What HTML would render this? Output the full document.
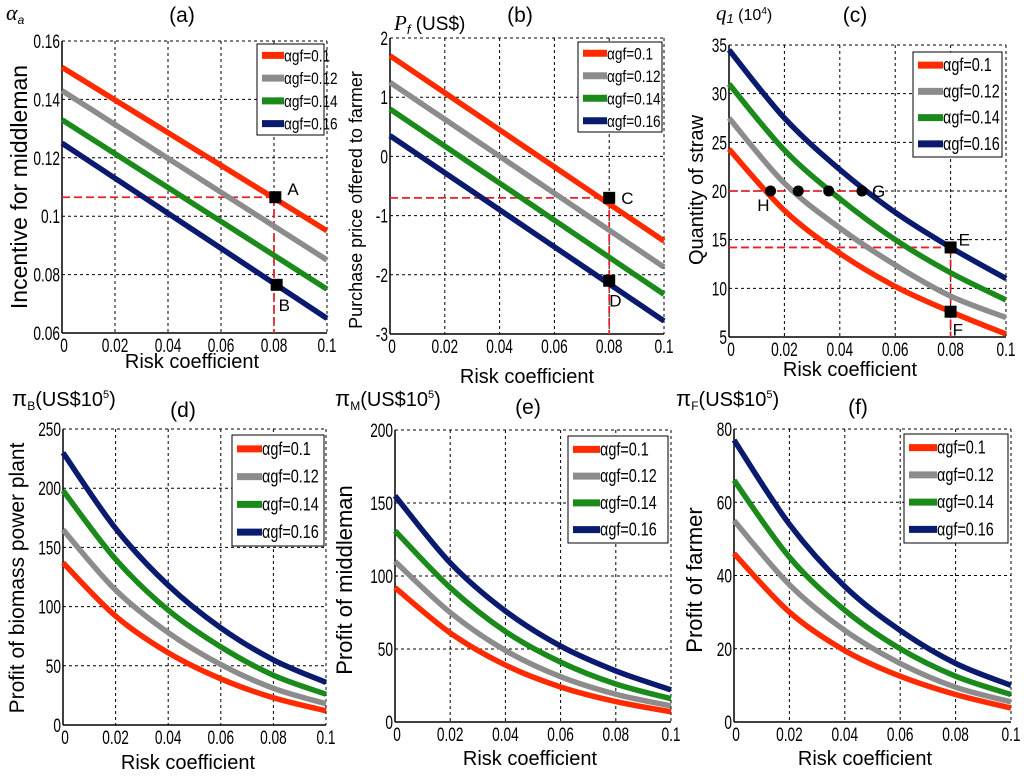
<!DOCTYPE html>
<html><head><meta charset="utf-8">
<style>
body{margin:0;background:#fff;}
svg{display:block;font-family:"Liberation Sans",sans-serif;}
</style></head>
<body>
<svg id="fig" width="1024" height="779" viewBox="0 0 1024 779"></svg>
<script>
// ---- data ----
const xCats = [0, 0.02, 0.04, 0.06, 0.08, 0.1];
const xTickLabels = ["0","0.02","0.04","0.06","0.08","0.1"];
const seriesNames = ["αgf=0.1","αgf=0.12","αgf=0.14","αgf=0.16"];
const seriesColors = ["#ff2a00","#8c8c8c","#1a8a1a","#0a1a6e"];

const aRed = [0.151,0.1398,0.1286,0.1174,0.1062,0.095];
const aGray = [0.143,0.1314,0.1198,0.1082,0.0966,0.085];
const aGreen = [0.133,0.1214,0.1098,0.0982,0.0866,0.075];
const aBlue = [0.125,0.113,0.101,0.089,0.077,0.065];
const aTicks = [0.06,0.08,0.1,0.12,0.14,0.16];
const aTickLabels = ["0.06","0.08","0.1","0.12","0.14","0.16"];

const bRed = [1.7,1.074,0.448,-0.178,-0.804,-1.43];
const bGray = [1.25,0.626,0.002,-0.622,-1.246,-1.87];
const bGreen = [0.8,0.174,-0.452,-1.078,-1.704,-2.33];
const bBlue = [0.35,-0.276,-0.902,-1.528,-2.154,-2.78];
const bTicks = [-3,-2,-1,0,1,2];
const bTickLabels = ["-3","-2","-1","0","1","2"];

const cRed = [24.3,18.0,13.6,10.2,7.6,5.3];
const cGray = [27.5,20.8,16.2,12.4,9.2,7.0];
const cGreen = [31.0,24.2,19.2,15.0,11.6,8.8];
const cBlue = [34.5,27.5,22.2,17.8,14.2,11.0];
const cTicks = [5,10,15,20,25,30,35];
const cTickLabels = ["5","10","15","20","25","30","35"];
const cDotsX = [0.015,0.025,0.036,0.048];

const dRed = [137,92,61,39,23,12];
const dGray = [165,114,78,51,31,18];
const dGreen = [198,140,97,66,42,26];
const dBlue = [230,166,118,82,55,36];
const dTicks = [0,50,100,150,200,250];
const dTickLabels = ["0","50","100","150","200","250"];

const eRed = [92,61,39,24,14,7];
const eGray = [110,75,49,31,19,11];
const eGreen = [131,92,62,41,26,16];
const eBlue = [155,109,76,52,35,22];
const eTicks = [0,50,100,150,200];
const eTickLabels = ["0","50","100","150","200"];

const fRed = [46,30,19.5,12.5,7.5,3.8];
const fGray = [55,37.5,25,16,9.5,5.5];
const fGreen = [66,45,30.5,20,12.5,7.5];
const fBlue = [77,54,37,25,16,10];
const fTicks = [0,20,40,60,80];
const fTickLabels = ["0","20","40","60","80"];

// ---- drawing ----
const NS="http://www.w3.org/2000/svg";
const svg=document.getElementById('fig');
function mk(tag,attrs,parent){const e=document.createElementNS(NS,tag);for(const k in attrs)e.setAttribute(k,attrs[k]);(parent||svg).appendChild(e);return e;}
function txt(s,attrs,parent){const e=mk('text',attrs,parent);e.textContent=s;return e;}
function condense(t,f){try{const w=t.getComputedTextLength();if(w>0){t.setAttribute('textLength',(w*f).toFixed(1));t.setAttribute('lengthAdjust','spacingAndGlyphs');}}catch(e){}}

function smoothPath(pts){
  let d="M"+pts[0][0]+","+pts[0][1];
  for(let i=0;i<pts.length-1;i++){
    const p0=pts[Math.max(0,i-1)],p1=pts[i],p2=pts[i+1],p3=pts[Math.min(pts.length-1,i+2)];
    const c1=[p1[0]+(p2[0]-p0[0])/6,p1[1]+(p2[1]-p0[1])/6];
    const c2=[p2[0]-(p3[0]-p1[0])/6,p2[1]-(p3[1]-p1[1])/6];
    d+=" C"+c1.join(",")+" "+c2.join(",")+" "+p2.join(",");
  }
  return d;
}

function panel(cfg){
  const g=mk('g',{});
  
  
  const sx=v=>cfg.x0+(v-0)/(0.1-0)*(cfg.x1-cfg.x0);
  const sy=v=>cfg.y1-(v-cfg.ymin)/(cfg.ymax-cfg.ymin)*(cfg.y1-cfg.y0);
  xCats.forEach((v,i)=>{
    if(i>0&&i<xCats.length-1){const l=mk('line',{x1:sx(v),x2:sx(v),y1:cfg.y0,y2:cfg.y1,stroke:'#000','stroke-width':1,'stroke-dasharray':'3,3'},g);
      }
  });
  cfg.ticks.forEach((v)=>{
    if(v!==cfg.ymin&&v!==cfg.ymax){const l=mk('line',{x1:cfg.x0,x2:cfg.x1,y1:sy(v),y2:sy(v),stroke:'#000','stroke-width':1,'stroke-dasharray':'3,3'},g);
      }
  });
  mk('line',{x1:cfg.x0,x2:cfg.x1,y1:cfg.y0,y2:cfg.y0,stroke:'#000','stroke-width':1,'stroke-dasharray':'3,3'},g);
  mk('line',{x1:cfg.x1,x2:cfg.x1,y1:cfg.y0,y2:cfg.y1,stroke:'#000','stroke-width':1,'stroke-dasharray':'3,3'},g);
  const ax=mk('line',{x1:cfg.x0,x2:cfg.x1,y1:cfg.y1,y2:cfg.y1,stroke:'#000','stroke-width':1.5},g);
  
  const ay=mk('line',{x1:cfg.x0,x2:cfg.x0,y1:cfg.y0,y2:cfg.y1,stroke:'#000','stroke-width':1.5},g);
  
  xCats.forEach((v,i)=>{
    const t=txt(xTickLabels[i],{x:sx(v)+(i===0?2:0),y:cfg.y1+19,'text-anchor':'middle','font-size':19},g);
    
    condense(t,0.72);
  });
  cfg.ticks.forEach((v,i)=>{
    const t=txt(cfg.tickLabels[i],{x:cfg.x0-2,y:sy(v)+7,'text-anchor':'end','font-size':19},g);
    
    condense(t,0.72);
  });
  (cfg.annot||[]).forEach(a=>{
    const l=mk('line',{x1:sx(a[0]),y1:sy(a[1]),x2:sx(a[2]),y2:sy(a[3]),stroke:'#e8202a','stroke-width':1.8,'stroke-dasharray':'8,4'},g);
    
  });
  cfg.series.forEach((arr,si)=>{
    const pts=arr.map((v,i)=>[sx(xCats[i]),sy(v)]);
    const p=mk('path',{d:smoothPath(pts),fill:'none',stroke:seriesColors[si],'stroke-width':5.5,'stroke-linecap':'butt'},g);
    
    
  });
  (cfg.squares||[]).forEach(s=>{
    const r=mk('rect',{x:sx(s[0])-6,y:sy(s[1])-6,width:12,height:12,fill:'#000'},g);
    
    const t=txt(s[2],{x:sx(s[0])+s[3],y:sy(s[1])+s[4],'font-size':17},g);
    
  });
  const L=cfg.legend;
  const lb=mk('rect',{x:L[0],y:L[1],width:L[2],height:L[3],fill:'#fff',stroke:'#000','stroke-width':1},g);
  
  const step=L[3]/4;
  seriesNames.forEach((n,i)=>{
    const cy=L[1]+step*(i+0.5);
    const sw=mk('line',{x1:L[0]+5,x2:L[0]+5+L[4],y1:cy,y2:cy,stroke:seriesColors[i],'stroke-width':7},g);
    
    const t=txt(n,{x:L[0]+5+L[4],y:cy+6,'font-size':L[5]},g);
    
    condense(t,0.8);
  });
  const tt=txt(cfg.title,{x:cfg.titlePos[0],y:cfg.titlePos[1],'text-anchor':'middle','font-size':21},g);
  
  const xl=txt('Risk coefficient',{x:cfg.xl[0],y:cfg.xl[1],'text-anchor':'middle','font-size':20},g);
  
  const yl=txt(cfg.ylabel,{x:0,y:0,'text-anchor':'middle','font-size':cfg.ylSize,transform:`translate(${cfg.yl[0]},${cfg.yl[1]}) rotate(-90)`},g);
  
  return cfg;
}

panel({id:'a',x0:62,x1:327,y0:41,y1:333,ymin:0.06,ymax:0.16,ticks:aTicks,tickLabels:aTickLabels,
  series:[aRed,aGray,aGreen,aBlue],legend:[257,44,67,91,22,17],
  annot:[[0,0.1065,0.08,0.1065],[0.08,0.1065,0.08,0.06]],
  squares:[[0.0805,0.1065,'A',12,-2],[0.081,0.0765,'B',2,26]],
  title:'(a)',titlePos:[182,22],xl:[192,368],ylabel:'Incentive for middleman',yl:[27,187],ylSize:23});

panel({id:'b',x0:390,x1:664,y0:38,y1:334,ymin:-3,ymax:2,ticks:bTicks,tickLabels:bTickLabels,
  series:[bRed,bGray,bGreen,bBlue],legend:[578,42,84,90,24,17],
  annot:[[0,-0.7,0.08,-0.7],[0.08,-0.7,0.08,-3]],
  squares:[[0.08,-0.7,'C',12,6],[0.08,-2.1,'D',0,26]],
  title:'(b)',titlePos:[520,22],xl:[527,383],ylabel:'Purchase price offered to farmer',yl:[362,200],ylSize:18});

panel({id:'c',x0:729,x1:1006,y0:45,y1:337,ymin:5,ymax:35,ticks:cTicks,tickLabels:cTickLabels,
  series:[cRed,cGray,cGreen,cBlue],legend:[913,52,89,105,25,18],
  annot:[[0,20,0.048,20],[0,14.2,0.08,14.2],[0.08,14.2,0.08,5]],
  squares:[[0.08,14.2,'E',8,-2],[0.08,7.6,'F',2,24]],
  title:'(c)',titlePos:[855,22],xl:[850,376],ylabel:'Quantity  of straw',yl:[703,190],ylSize:20});

(function(){
  const x0=729,x1=1006,y0=45,y1=337;
  cDotsX.forEach(v=>{
    const cx=x0+v/0.1*(x1-x0), cy=y1-(20-5)/30*(y1-y0);
    const c=mk('circle',{cx:cx,cy:cy,r:5.5,fill:'#000'});
    
  });
  const h=txt('H',{x:x0+0.012/0.1*(x1-x0)-5,y:y1-(20-5)/30*(y1-y0)+20,'font-size':17});
  
  const gg=txt('G',{x:x0+0.048/0.1*(x1-x0)+10,y:y1-(20-5)/30*(y1-y0)+6,'font-size':17});
  
})();

panel({id:'d',x0:63,x1:326,y0:429,y1:725,ymin:0,ymax:250,ticks:dTicks,tickLabels:dTickLabels,
  series:[dRed,dGray,dGreen,dBlue],legend:[232,435,92,111,25,18],
  title:'(d)',titlePos:[183,417],xl:[188,769],ylabel:'Profit of biomass power plant',yl:[24,578],ylSize:21});

panel({id:'e',x0:395,x1:671,y0:430,y1:722,ymin:0,ymax:200,ticks:eTicks,tickLabels:eTickLabels,
  series:[eRed,eGray,eGreen,eBlue],legend:[568,436,100,107,27,18],
  title:'(e)',titlePos:[528,414],xl:[530,765],ylabel:'Profit of middleman',yl:[352,580],ylSize:22});

panel({id:'f',x0:734,x1:1011,y0:429,y1:722,ymin:0,ymax:80,ticks:fTicks,tickLabels:fTickLabels,
  series:[fRed,fGray,fGreen,fBlue],legend:[904,434,104,109,28,18],
  title:'(f)',titlePos:[858,414],xl:[865,765],ylabel:'Profit of farmer',yl:[702,580],ylSize:22});

function vlabel(html,x,y,name){
  const t=mk('text',{x:x,y:y,'font-size':17});
  t.innerHTML=html;
  
}
vlabel('<tspan font-style="italic" font-family="Liberation Serif" font-size="22">α</tspan><tspan font-style="italic" font-size="12" dy="4">a</tspan>',6,20,'y-variable-label');
vlabel('<tspan font-style="italic" font-family="Liberation Serif" font-size="21">P</tspan><tspan font-style="italic" font-size="13" dy="4">f</tspan><tspan dy="-4" font-size="19"> (US$)</tspan>',394,30,'y-variable-label');
vlabel('<tspan font-style="italic" font-family="Liberation Serif" font-size="21">q</tspan><tspan font-style="italic" font-size="13" dy="3">1</tspan><tspan dy="-3" font-size="16"> (10</tspan><tspan font-size="10" dy="-6">4</tspan><tspan font-size="16" dy="6">)</tspan>',716,20,'y-variable-label');
vlabel('<tspan font-size="22">π</tspan><tspan font-size="12" dy="4">B</tspan><tspan dy="-4" font-size="20">(US$10</tspan><tspan font-size="11" dy="-8">5</tspan><tspan font-size="20" dy="8">)</tspan>',12,406,'y-variable-label');
vlabel('<tspan font-size="22">π</tspan><tspan font-size="12" dy="4">M</tspan><tspan dy="-4" font-size="20">(US$10</tspan><tspan font-size="11" dy="-8">5</tspan><tspan font-size="20" dy="8">)</tspan>',335,406,'y-variable-label');
vlabel('<tspan font-size="22">π</tspan><tspan font-size="12" dy="4">F</tspan><tspan dy="-4" font-size="20">(US$10</tspan><tspan font-size="11" dy="-8">5</tspan><tspan font-size="20" dy="8">)</tspan>',676,406,'y-variable-label');
</script>
</body></html>
